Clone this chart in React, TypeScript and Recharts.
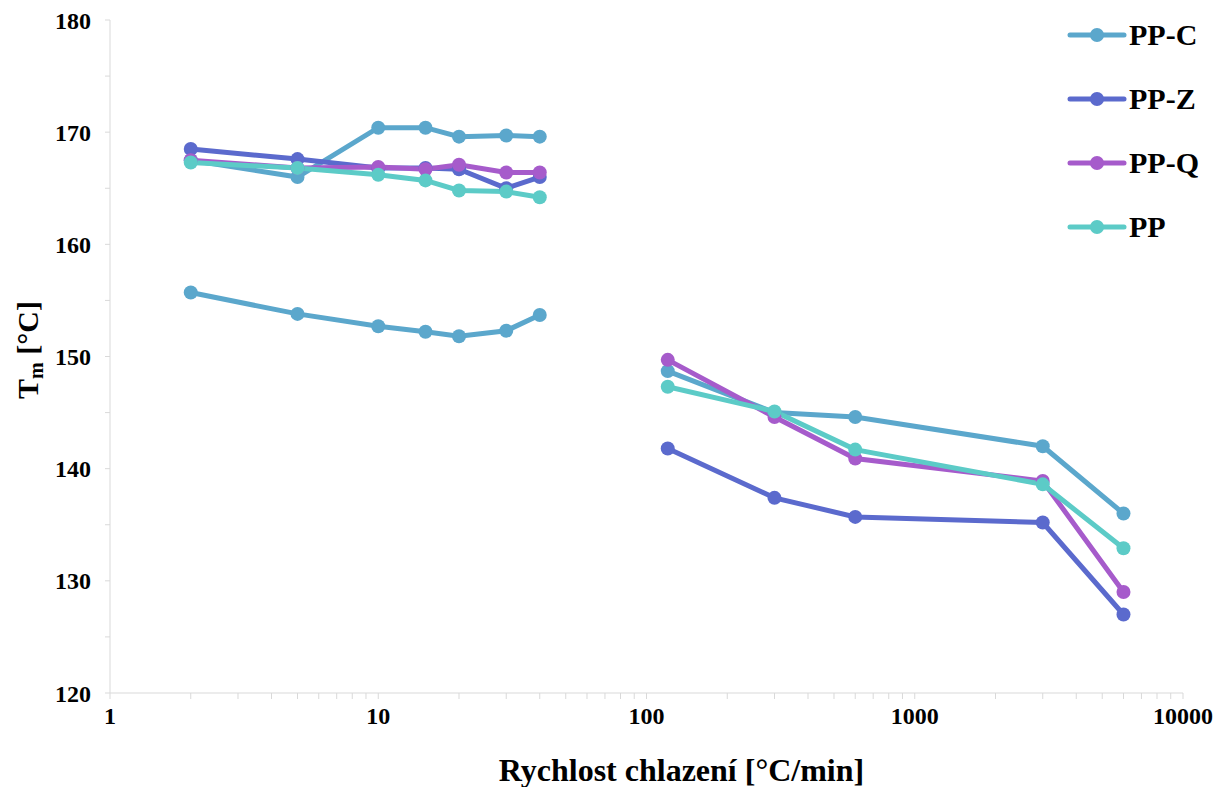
import { LineChart, Line, XAxis, YAxis, Label } from "recharts";

const slowRates = [2, 5, 10, 15, 20, 30, 40];
const fastRates = [120, 300, 600, 3000, 6000];

const ppcSlow = [167.5, 166.0, 170.4, 170.4, 169.6, 169.7, 169.6];
const ppcSlow2 = [155.7, 153.8, 152.7, 152.2, 151.8, 152.3, 153.7];
const ppzSlow = [168.5, 167.6, 166.8, 166.8, 166.7, 165.0, 166.0];
const ppqSlow = [167.5, 166.8, 166.9, 166.7, 167.1, 166.4, 166.4];
const ppSlow = [167.3, 166.8, 166.2, 165.7, 164.8, 164.7, 164.2];

const ppcFast = [148.7, 145.0, 144.6, 142.0, 136.0];
const ppzFast = [141.8, 137.4, 135.7, 135.2, 127.0];
const ppqFast = [149.7, 144.6, 140.9, 138.9, 129.0];
const ppFast = [147.3, 145.1, 141.7, 138.6, 132.9];

const xTicks = [
  1, 2, 3, 4, 5, 6, 7, 8, 9,
  10, 20, 30, 40, 50, 60, 70, 80, 90,
  100, 200, 300, 400, 500, 600, 700, 800, 900,
  1000, 2000, 3000, 4000, 5000, 6000, 7000, 8000, 9000,
  10000,
];
const xLabels = [1, 10, 100, 1000, 10000];
const yTicks = [120, 125, 130, 135, 140, 145, 150, 155, 160, 165, 170, 175, 180];

const colors = {
  ppc: "#5ba7cc",
  ppz: "#5b6acd",
  ppq: "#a65bcb",
  pp: "#5ccbc7",
};

const legendItems = [
  { name: "PP-C", color: colors.ppc },
  { name: "PP-Z", color: colors.ppz },
  { name: "PP-Q", color: colors.ppq },
  { name: "PP", color: colors.pp },
];

const toPoints = (xs: number[], ys: number[]) => xs.map((x, i) => ({ x, y: ys[i] }));

const series = [
  { key: "ppc2-slow", color: colors.ppc, data: toPoints(slowRates, ppcSlow2) },
  { key: "ppc-slow", color: colors.ppc, data: toPoints(slowRates, ppcSlow) },
  { key: "ppc-fast", color: colors.ppc, data: toPoints(fastRates, ppcFast) },
  { key: "ppz-slow", color: colors.ppz, data: toPoints(slowRates, ppzSlow) },
  { key: "ppz-fast", color: colors.ppz, data: toPoints(fastRates, ppzFast) },
  { key: "ppq-slow", color: colors.ppq, data: toPoints(slowRates, ppqSlow) },
  { key: "ppq-fast", color: colors.ppq, data: toPoints(fastRates, ppqFast) },
  { key: "pp-slow", color: colors.pp, data: toPoints(slowRates, ppSlow) },
  { key: "pp-fast", color: colors.pp, data: toPoints(fastRates, ppFast) },
];

const font = "Liberation Serif, Times New Roman, serif";

// legend drawn as an overlay so the chart doesn't reserve room for it
const LegendBox = () => (
  <div style={{ position: "absolute", left: 1066, top: 3, fontFamily: font, fontWeight: "bold" }}>
    {legendItems.map((item) => (
      <div key={item.name} style={{ display: "flex", alignItems: "center", height: 64 }}>
        <svg width={62} height={20}>
          <line x1={4} y1={10} x2={58} y2={10} stroke={item.color} strokeWidth={5} strokeLinecap="round" />
          <circle cx={31} cy={10} r={7} fill={item.color} />
        </svg>
        <span style={{ fontSize: 30, color: "#000", marginLeft: 1 }}>{item.name}</span>
      </div>
    ))}
  </div>
);

const YTitle = () => (
  <text
    x={31}
    y={350}
    transform="rotate(-90 31 350)"
    textAnchor="middle"
    dominantBaseline="middle"
    style={{ fontFamily: font, fontWeight: "bold", fontSize: 30, fill: "#000" }}
  >
    <tspan>T</tspan>
    <tspan dy={7} fontSize={20}>m</tspan>
    <tspan dy={-7}> [°C]</tspan>
  </text>
);

const XTitle = (props: any) => {
  const vb = props.viewBox || { x: 0, y: 0, width: 0, height: 0 };
  return (
    <text
      x={vb.x + vb.width / 2 + 35}
      y={781}
      textAnchor="middle"
      style={{ fontFamily: font, fontWeight: "bold", fontSize: 32, fill: "#000" }}
    >
      Rychlost chlazení [°C/min]
    </text>
  );
};

export default function App() {
  return (
    <div style={{ position: "absolute", left: 0, top: 0, width: 1228, height: 787, background: "#fff" }}>
      <LineChart width={1228} height={787} margin={{ top: 20, right: 45, bottom: 64, left: 0 }}>
        <XAxis
          dataKey="x"
          type="number"
          scale="log"
          domain={[1, 10000]}
          ticks={xTicks}
          interval={0}
          allowDataOverflow
          height={30}
          tickFormatter={(v: number) => (xLabels.includes(v) ? String(v) : "")}
          stroke="#d9d9d9"
          tickLine={{ stroke: "#d9d9d9" }}
          tickSize={6}
          tickMargin={8}
          tick={{ fill: "#000", fontFamily: font, fontWeight: "bold", fontSize: 24 }}
        >
          <Label content={XTitle} />
        </XAxis>
        <YAxis
          type="number"
          domain={[120, 180]}
          ticks={yTicks}
          interval={0}
          width={110}
          tickFormatter={(v: number) => (v % 10 === 0 ? String(v) : "")}
          stroke="#d9d9d9"
          tickLine={{ stroke: "#d9d9d9" }}
          tickSize={5}
          tickMargin={14}
          tick={{ fill: "#000", fontFamily: font, fontWeight: "bold", fontSize: 24 }}
        >
          <Label content={YTitle} />
        </YAxis>
        {series.map((s) => (
          <Line
            key={s.key}
            data={s.data}
            dataKey="y"
            type="linear"
            stroke={s.color}
            strokeWidth={5}
            dot={{ r: 7, fill: s.color, stroke: s.color, strokeWidth: 0 }}
            activeDot={false}
            legendType="none"
            isAnimationActive={false}
          />
        ))}
      </LineChart>
      <LegendBox />
    </div>
  );
}
